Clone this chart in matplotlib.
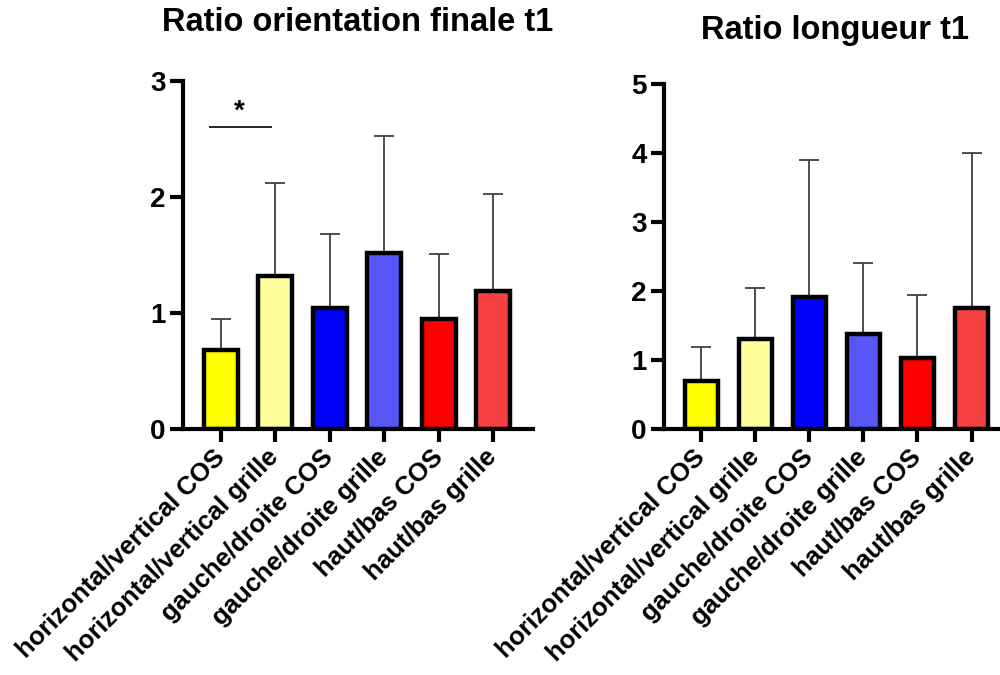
import numpy as np
import matplotlib
matplotlib.use("Agg")
import matplotlib.pyplot as plt

# ── Data ──────────────────────────────────────────────────────────────────
categories = [
    "horizontal/vertical COS",
    "horizontal/vertical grille",
    "gauche/droite COS",
    "gauche/droite grille",
    "haut/bas COS",
    "haut/bas grille",
]
orient_mean = [0.68, 1.32, 1.04, 1.52, 0.95, 1.19]
orient_sd   = [0.27, 0.80, 0.64, 1.01, 0.56, 0.84]
long_mean   = [0.70, 1.30, 1.92, 1.38, 1.03, 1.75]
long_sd     = [0.49, 0.74, 1.98, 1.03, 0.91, 2.25]
bar_colors  = ["#FFFF00", "#FFFF9C", "#0000FF", "#5757F8", "#FF0000", "#F74040"]

plt.rcParams["font.family"] = ["Liberation Sans", "DejaVu Sans"]
plt.rcParams["font.weight"] = "bold"

fig = plt.figure(figsize=(10, 6.75), dpi=100, facecolor="white")


def draw_panel(ax, means, sds, ymax, title, title_xy):
    x = np.arange(len(categories))
    ax.errorbar(x, means, yerr=[np.zeros(len(sds)), sds], fmt="none",
                ecolor="#404040", elinewidth=1.3, capsize=7.5,
                capthick=1.3, zorder=1)
    ax.bar(x, means, width=0.62, color=bar_colors, edgecolor="black",
           linewidth=3.2, zorder=2)

    ax.set_xlim(-0.69, 5.73)
    ax.set_ylim(0, ymax)
    ax.set_yticks(range(ymax + 1))
    ax.set_xticks(x)
    ax.set_xticklabels(categories, rotation=45, ha="right", va="center",
                       rotation_mode="anchor", fontsize=18.5,
                       fontweight="bold")
    for lbl in ax.get_yticklabels():
        lbl.set_fontsize(20)
        lbl.set_fontweight("bold")

    for side in ("top", "right"):
        ax.spines[side].set_visible(False)
    for side in ("left", "bottom"):
        ax.spines[side].set_linewidth(3)
    ax.tick_params(axis="both", length=9.5, width=3, pad=3)
    ax.tick_params(axis="x", pad=8)

    fig.text(title_xy[0], title_xy[1], title, ha="center", va="center",
             fontsize=23.5, fontweight="bold")


# Left panel: Ratio orientation finale t1
ax1 = fig.add_axes([0.183, 0.3644, 0.350, 0.5156])
draw_panel(ax1, orient_mean, orient_sd, 3, "Ratio orientation finale t1",
           (0.358, 0.967))
# significance bracket between the first two groups
ax1.plot([-0.22, 0.95], [2.60, 2.60], color="black", linewidth=1.2,
         solid_capstyle="butt")
ax1.text(0.35, 2.74, "*", ha="center", va="center", fontsize=20,
         fontweight="bold")

# Right panel: Ratio longueur t1 (runs past the right edge like the source)
ax2 = fig.add_axes([0.664, 0.3644, 0.347, 0.5111])
draw_panel(ax2, long_mean, long_sd, 5, "Ratio longueur t1", (0.835, 0.955))

fig.savefig("out.png", dpi=100, facecolor="white")
